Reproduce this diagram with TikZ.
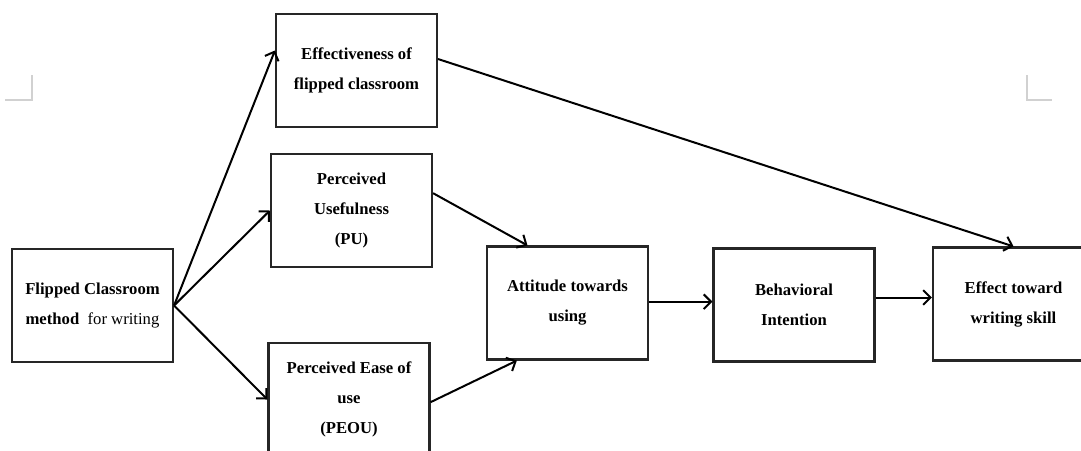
\documentclass[tikz,border=0pt]{standalone}
\usepackage{fontspec}
\setmainfont{Liberation Serif}
\usetikzlibrary{arrows.meta}

\tikzset{
  box/.style={draw=black!85, line width=1.6pt, minimum width=120.75pt, minimum height=84.75pt,
    align=center, font=\fontsize{12.5}{22.5}\selectfont\bfseries, inner sep=2pt},
  link/.style={line width=1.5pt, -{Straight Barb[length=5.5pt,width=11pt,line width=1.5pt]}},
  pagemark/.style={black!18, line width=0.8pt}
}

\begin{document}
\begin{tikzpicture}[x=0.75pt, y=-0.75pt]

\useasboundingbox (0,0) rectangle (1081,450);

% Word page corner marks
\draw [pagemark] (32,75) -- (32,100) -- (5,100);
\draw [pagemark] (1027,75) -- (1027,100) -- (1052,100);

\node [box] (flip) at (92.5,305.5) {Flipped Classroom\\method \mdseries\ for writing};
\node [box] (eff) at (356.5,70.5) {Effectiveness of\\flipped classroom};
\node [box] (pu) at (351.5,210.5) {Perceived\\Usefulness\\(PU)};
\node [box] (peou) at (349,399.5) {Perceived Ease of\\use\\(PEOU)};
\node [box] (att) at (567.5,303) {Attitude towards\\using};
\node [box] (bi) at (794,305) {Behavioral\\Intention};
\node [box] (eft) at (1013.5,304) {Effect toward\\writing skill};

\draw [link] (flip.east) -- ([yshift=15pt]eff.west);
\draw [link] (flip.east) -- (pu.west);
\draw [link] (flip.east) -- (peou.west);

\draw [link] ([yshift=13pt]pu.east) -- ([xshift=-30pt]att.north);
\draw [link] ([yshift=-2pt]peou.east) -- ([xshift=-38pt]att.south);

\draw [link] ([yshift=1pt]att.east) -- ([yshift=1pt]att.east -| bi.west);
\draw [link] ([yshift=5.6pt]bi.east) -- ([yshift=5.6pt]bi.east -| eft.west);

\draw [link] ([yshift=8.6pt]eff.east) -- (eft.north);

\end{tikzpicture}
\end{document}
